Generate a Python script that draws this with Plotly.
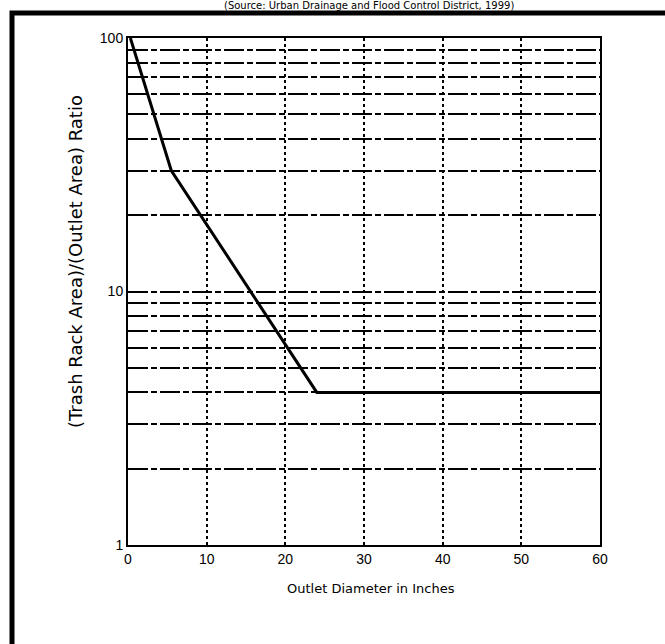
import plotly.graph_objects as go

# Data
diameter_in = [0.3, 5.5, 24, 60]
area_ratio = [100, 30, 4, 4]

x_ticks = [0, 10, 20, 30, 40, 50, 60]
y_ticks = [1, 10, 100]
y_tick_text = ["1", "10", "100"]
y_minor = [2, 3, 4, 5, 6, 7, 8, 9, 20, 30, 40, 50, 60, 70, 80, 90]

title_text = "(Source: Urban Drainage and Flood Control District, 1999)"
x_title = "Outlet Diameter in Inches"
y_title = "(Trash Rack Area)/(Outlet Area) Ratio"

W, H = 665, 644
ml, mr, mt, mb = 128, 65, 38, 99
pw = W - ml - mr
ph = H - mt - mb

def px_to_paper_x(px):
    return (px - ml) / pw

def px_to_paper_y(py):
    return (H - mb - py) / ph

tick_font = dict(family="Liberation Sans, Arial, sans-serif", size=14, color="black")

fig = go.Figure()
fig.add_trace(go.Scatter(
    x=diameter_in, y=area_ratio, mode="lines",
    line=dict(color="black", width=3), showlegend=False, hoverinfo="skip"))

fig.update_layout(
    width=W, height=H,
    margin=dict(l=ml, r=mr, t=mt, b=mb, autoexpand=False),
    paper_bgcolor="white", plot_bgcolor="white",
    font=tick_font,
    showlegend=False,
)

fig.update_xaxes(
    range=[0, 60], tickmode="array", tickvals=x_ticks,
    showgrid=True, gridcolor="black", gridwidth=1.5, griddash="dot",
    zeroline=False, showline=True, mirror=True, linecolor="black", linewidth=2,
    ticks="", tickfont=tick_font, automargin=False,
)
fig.update_yaxes(
    type="log", range=[0, 2], tickmode="array", tickvals=y_ticks, ticktext=y_tick_text,
    showgrid=True, gridcolor="black", gridwidth=2, griddash="20px,3px,6px,3px",
    minor=dict(tickmode="array", tickvals=y_minor, showgrid=True,
               gridcolor="black", gridwidth=2, griddash="20px,3px,6px,3px", ticks=""),
    zeroline=False, showline=True, mirror=True, linecolor="black", linewidth=2,
    ticks="", tickfont=tick_font, automargin=False,
)

# Axis titles placed as in the scan
fig.add_annotation(text=x_title, xref="paper", yref="paper",
                   x=px_to_paper_x(371), y=px_to_paper_y(588),
                   xanchor="center", yanchor="middle", showarrow=False,
                   font=dict(family="DejaVu Sans, sans-serif", size=13, color="black"))
fig.add_annotation(text=y_title, xref="paper", yref="paper",
                   x=px_to_paper_x(75), y=px_to_paper_y(262), textangle=-90,
                   xanchor="center", yanchor="middle", showarrow=False,
                   font=dict(family="DejaVu Sans, sans-serif", size=18, color="black"))

# Outer frame of the scanned figure (left and top edges visible)
fig.add_shape(type="rect", xref="paper", yref="paper",
              x0=px_to_paper_x(12), x1=px_to_paper_x(W + 40),
              y0=px_to_paper_y(H + 40), y1=px_to_paper_y(13),
              line=dict(color="black", width=5), fillcolor="rgba(0,0,0,0)", layer="above")

# Source line at the very top
fig.add_annotation(text=title_text, xref="paper", yref="paper",
                   x=px_to_paper_x(369), y=px_to_paper_y(-2),
                   xanchor="center", yanchor="top", showarrow=False,
                   font=dict(family="DejaVu Sans, sans-serif", size=10, color="black"))

fig.write_html("out.html", config={"displayModeBar": False},
               post_script="document.body.style.margin='0';")
